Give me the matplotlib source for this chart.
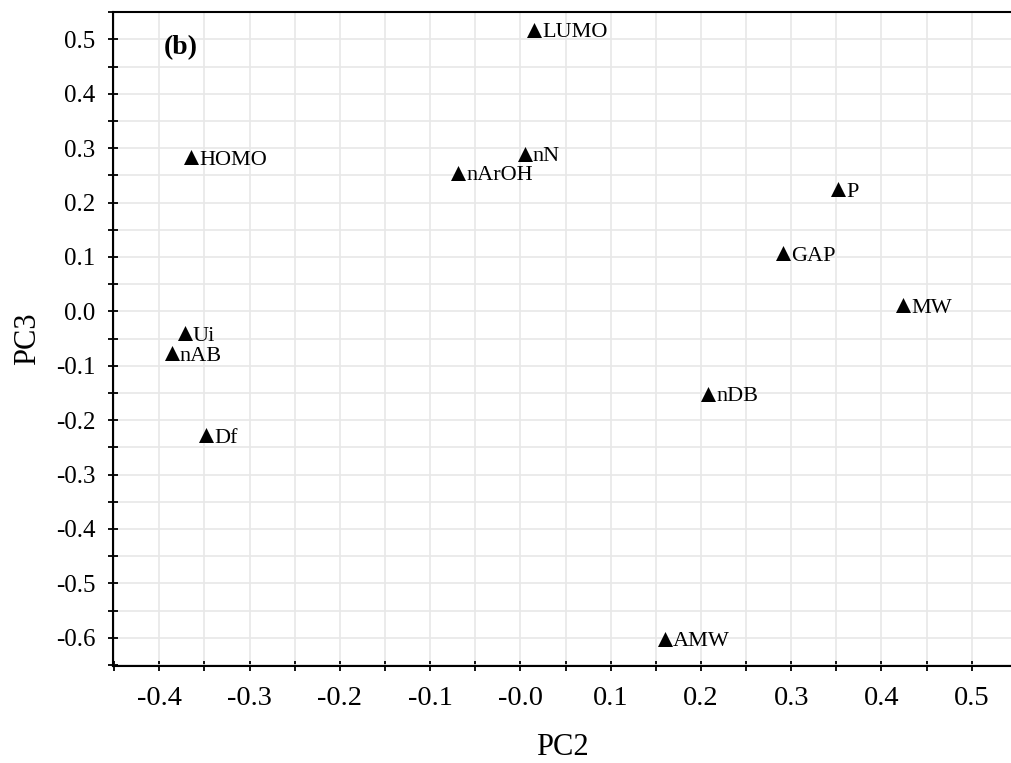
import matplotlib
matplotlib.use("Agg")
import matplotlib.pyplot as plt
from matplotlib.ticker import MultipleLocator, FixedLocator, FixedFormatter

plt.rcParams['font.family'] = ['Liberation Serif', 'DejaVu Serif']

names = ["LUMO", "HOMO", "nN", "nArOH", "P", "GAP", "MW", "Ui", "nAB", "Df", "nDB", "AMW"]
pc2 = [0.015, -0.365, 0.005, -0.069, 0.352, 0.291, 0.424, -0.372, -0.386, -0.348, 0.208, 0.160]
pc3 = [0.518, 0.283, 0.290, 0.255, 0.224, 0.107, 0.011, -0.040, -0.077, -0.228, -0.152, -0.602]

xticks = [-0.4, -0.3, -0.2, -0.1, 0.0, 0.1, 0.2, 0.3, 0.4, 0.5]
xticklabels = ["-0.4", "-0.3", "-0.2", "-0.1", "-0.0", "0.1", "0.2", "0.3", "0.4", "0.5"]
yticks = [0.5, 0.4, 0.3, 0.2, 0.1, 0.0, -0.1, -0.2, -0.3, -0.4, -0.5, -0.6]
yticklabels = ["0.5", "0.4", "0.3", "0.2", "0.1", "0.0", "-0.1", "-0.2", "-0.3", "-0.4", "-0.5", "-0.6"]

fig = plt.figure(figsize=(10.11, 7.63), dpi=100)
ax = fig.add_axes([113/1011, 1 - 666/763, 1 - 113/1011, (666 - 12)/763])

ax.set_xlim(-0.4513, 0.5435)
ax.set_ylim(-0.652, 0.5502)

ax.xaxis.set_major_locator(FixedLocator(xticks))
ax.xaxis.set_major_formatter(FixedFormatter(xticklabels))
ax.yaxis.set_major_locator(FixedLocator(yticks))
ax.yaxis.set_major_formatter(FixedFormatter(yticklabels))
ax.xaxis.set_minor_locator(MultipleLocator(0.05))
ax.yaxis.set_minor_locator(MultipleLocator(0.05))

ax.grid(True, which='both', color='#e8e8e8', linewidth=1.2, zorder=0)
ax.set_axisbelow(True)

for s in ['left', 'bottom', 'top']:
    ax.spines[s].set_linewidth(1.5)
    ax.spines[s].set_color('black')
ax.spines['right'].set_visible(False)

ax.tick_params(which='both', direction='inout', length=7, width=1.3, colors='black',
               top=False, right=False)
ax.tick_params(axis='x', which='major', labelsize=20.5, pad=11)
ax.tick_params(axis='y', which='major', labelsize=18, pad=9)

ax.scatter(pc2, pc3, marker='^', s=10.8**2, color='black', linewidths=0, zorder=3)
for n, x, y in zip(names, pc2, pc3):
    ax.annotate(n, (x, y), xytext=(8, -7.5), textcoords='offset pixels',
                fontsize=16, ha='left', va='baseline', zorder=4)

ax.text(0.056, 0.946, "(b)", transform=ax.transAxes, fontsize=20, fontweight='bold',
        ha='left', va='center')

ax.set_xlabel("PC2", fontsize=22, labelpad=16)
ax.set_ylabel("PC3", fontsize=22, labelpad=10)

fig.savefig("out.png", dpi=100)
